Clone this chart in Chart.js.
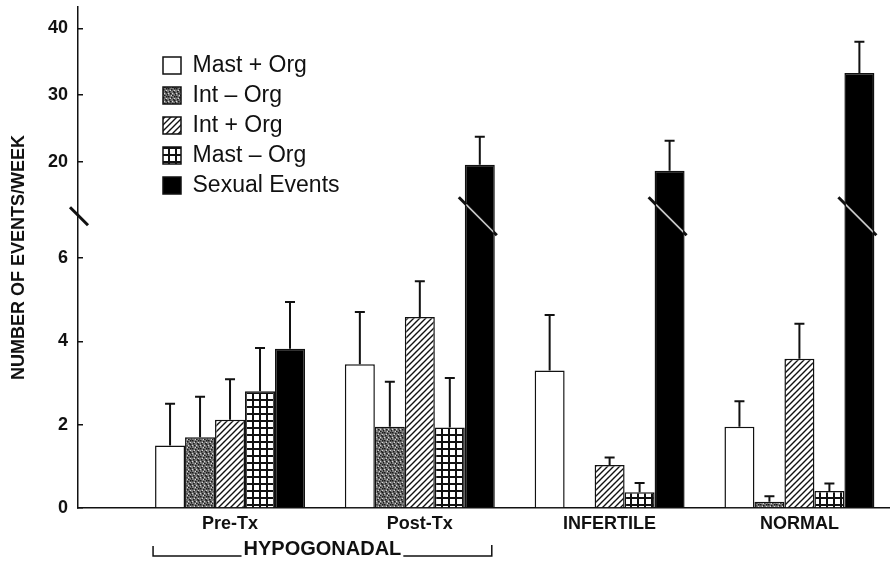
<!DOCTYPE html>
<html>
<head>
<meta charset="utf-8">
<title>Number of events per week</title>
<script src="https://cdn.jsdelivr.net/npm/chart.js@4.4.0/dist/chart.umd.min.js"></script>
<style>
  html, body { margin: 0; padding: 0; background: #fff; }
  #chart { display: block; }
</style>
</head>
<body>
<canvas id="chart" width="891" height="569"></canvas>
<script>
// Groups on the x axis
var groupLabels = ['Pre-Tx', 'Post-Tx', 'INFERTILE', 'NORMAL'];
var seriesNames = ['Mast + Org', 'Int \u2013 Org', 'Int + Org', 'Mast \u2013 Org', 'Sexual Events'];

// Mean events/week (null = no bar)
var mastOrg      = [1.5, 3.45, 3.3, 1.95];
var intNoOrg     = [1.7, 1.95, null, 0.15];
var intOrg       = [2.12, 4.58, 1.03, 3.58];
var mastNoOrg    = [2.8, 1.93, 0.38, 0.41];
var sexualEvents = [3.82, 19.6, 18.7, 33.3];

// Upper error bars
var mastOrgErr      = [1.0, 1.25, 1.33, 0.61];
var intNoOrgErr     = [0.97, 1.08, null, 0.13];
var intOrgErr       = [0.97, 0.86, 0.18, 0.84];
var mastNoOrgErr    = [1.04, 1.19, 0.22, 0.18];
var sexualEventsErr = [1.12, 4.2, 4.5, 4.7];

var yTickValues = [0, 2, 4, 6, 20, 30, 40];
var groupName = 'HYPOGONADAL';

// Broken y axis: 0..7 linear, then 20..40 compressed above the break
var BREAK_AT = 7;
var UPPER_FROM = 20;
var UPPER_POS = 8.3;
var UPPER_SCALE = 0.1605;
var Y_MAX = 12.02;

function toAxis(v){
    return v <= BREAK_AT ? v : UPPER_POS + (v - UPPER_FROM) * UPPER_SCALE;
}

Chart.defaults.font.family = "'Liberation Sans', Arial, sans-serif";
Chart.defaults.color = '#111';

var ctx = document.getElementById('chart').getContext('2d');

function _makePattern(size, draw){
    var c = document.createElement('canvas');
    c.width = size;
    c.height = size;
    draw(c.getContext('2d'), size);
    return ctx.createPattern(c, 'repeat');
}

// stippled grey
var stipple = _makePattern(8, function(g, s){
    g.fillStyle = '#7a7a7a';
    g.fillRect(0, 0, s, s);
    g.fillStyle = '#1a1a1a';
    [[0,0],[3,1],[6,0],[1,3],[5,3],[2,5],[7,6],[4,7],[6,4]].forEach(function(p){ g.fillRect(p[0], p[1], 1.5, 1.5); });
    g.fillStyle = '#d8d8d8';
    [[2,2],[6,2],[0,5],[4,5],[3,7]].forEach(function(p){ g.fillRect(p[0], p[1], 1, 1); });
});

// diagonal hatch
var hatch = _makePattern(6, function(g, s){
    g.fillStyle = '#fff';
    g.fillRect(0, 0, s, s);
    g.strokeStyle = '#111';
    g.lineWidth = 1.4;
    g.beginPath();
    g.moveTo(-1, s + 1); g.lineTo(s + 1, -1);
    g.moveTo(-1, 1); g.lineTo(1, -1);
    g.moveTo(s - 1, s + 1); g.lineTo(s + 1, s - 1);
    g.stroke();
});

// square grid
var grid = _makePattern(7, function(g, s){
    g.fillStyle = '#fff';
    g.fillRect(0, 0, s, s);
    g.fillStyle = '#111';
    g.fillRect(0, 0, s, 2);
    g.fillRect(0, 0, 2, s);
});

function _series(name, values, errors, fill){
    return {
        label: name,
        values: values,
        errors: errors,
        data: values.map(function(v, i){ return {x: i + 1, y: v == null ? null : toAxis(v)}; }),
        backgroundColor: fill,
        borderColor: '#111',
        borderWidth: 1.5
    };
}

var errorBars = {
    id: 'errorBars',
    afterDatasetsDraw: function(chart){
        var c = chart.ctx, y = chart.scales.y;
        c.save();
        c.strokeStyle = '#111';
        c.lineWidth = 2;
        chart.data.datasets.forEach(function(ds, i){
            var meta = chart.getDatasetMeta(i);
            ds.errors.forEach(function(err, j){
                var v = ds.values[j];
                if (v == null || err == null) return;
                var bar = meta.data[j];
                var yCap = y.getPixelForValue(toAxis(v + err));
                c.beginPath();
                c.moveTo(bar.x, bar.y);
                c.lineTo(bar.x, yCap);
                c.moveTo(bar.x - 5, yCap);
                c.lineTo(bar.x + 5, yCap);
                c.stroke();
            });
        });
        c.restore();
    }
};

// slash marks on the axis and on the tall bars, plus the group bracket
var breaks = {
    id: 'breaks',
    afterDraw: function(chart){
        var c = chart.ctx, area = chart.chartArea;
        var yb = chart.scales.y.getPixelForValue(BREAK_AT);
        c.save();
        c.strokeStyle = '#111';
        c.lineWidth = 3;
        c.beginPath();
        c.moveTo(area.left - 8, yb - 9);
        c.lineTo(area.left + 10, yb + 9);
        c.stroke();

        var meta = chart.getDatasetMeta(4);
        sexualEvents.forEach(function(v, j){
            if (v <= BREAK_AT) return;
            var bar = meta.data[j];
            var l = bar.x - bar.width / 2, r = bar.x + bar.width / 2;
            c.strokeStyle = '#111';
            c.lineWidth = 3;
            c.beginPath();
            c.moveTo(l - 6, yb - 19);
            c.lineTo(r + 2, yb + 19);
            c.stroke();
            c.save();
            c.beginPath();
            c.rect(l + 1.5, yb - 30, bar.width - 3, 60);
            c.clip();
            c.strokeStyle = '#cfcfcf';
            c.lineWidth = 1.5;
            c.beginPath();
            c.moveTo(l - 6, yb - 19);
            c.lineTo(r + 2, yb + 19);
            c.stroke();
            c.restore();
        });

        // HYPOGONADAL bracket under the first two groups
        var m0 = chart.getDatasetMeta(0), m4 = chart.getDatasetMeta(4);
        var x1 = m0.data[0].x - m0.data[0].width / 2 - 2;
        var x2 = m4.data[1].x + m4.data[1].width / 2 - 3;
        var yLine = area.bottom + 48;
        c.font = "bold 20px 'Liberation Sans', Arial, sans-serif";
        c.fillStyle = '#111';
        c.textAlign = 'center';
        c.textBaseline = 'alphabetic';
        var mid = (x1 + x2) / 2;
        var half = c.measureText(groupName).width / 2 + 2;
        c.fillText(groupName, mid, yLine - 1);
        c.strokeStyle = '#111';
        c.lineWidth = 1.5;
        c.beginPath();
        c.moveTo(x1, yLine - 10);
        c.lineTo(x1, yLine);
        c.lineTo(mid - half, yLine);
        c.moveTo(mid + half, yLine);
        c.lineTo(x2, yLine);
        c.lineTo(x2, yLine - 11);
        c.stroke();
        c.restore();
    }
};

// put the legend in the upper left of the plot
var legendPlace = {
    id: 'legendPlace',
    afterLayout: function(chart){
        chart.legend.left = 163 - 7;
        chart.legend.top = 47;
    }
};

new Chart(ctx, {
    type: 'bar',
    data: {
        datasets: [
            _series(seriesNames[0], mastOrg, mastOrgErr, '#fff'),
            _series(seriesNames[1], intNoOrg, intNoOrgErr, stipple),
            _series(seriesNames[2], intOrg, intOrgErr, hatch),
            _series(seriesNames[3], mastNoOrg, mastNoOrgErr, grid),
            _series(seriesNames[4], sexualEvents, sexualEventsErr, '#000')
        ]
    },
    options: {
        responsive: false,
        animation: false,
        devicePixelRatio: 1,
        categoryPercentage: 0.79,
        barPercentage: 1,
        layout: { padding: { top: 7, right: 2, left: 0, bottom: 0 } },
        plugins: {
            tooltip: { enabled: false },
            legend: {
                position: 'chartArea',
                align: 'start',
                labels: {
                    boxWidth: 18,
                    boxHeight: 17,
                    padding: 7,
                    color: '#111',
                    font: { size: 23 }
                }
            }
        },
        scales: {
            x: {
                type: 'linear',
                offset: false,
                min: 0.199,
                max: 4.472,
                afterBuildTicks: function(scale){
                    scale.ticks = groupLabels.map(function(_, i){ return {value: i + 1}; });
                },
                afterFit: function(scale){
                    scale.height = 61;
                    scale.paddingLeft = 0;
                    scale.paddingRight = 0;
                },
                grid: { display: false, drawTicks: false },
                border: { color: '#111', width: 1.5 },
                ticks: {
                    autoSkip: false,
                    maxRotation: 0,
                    padding: 5,
                    color: '#111',
                    font: { size: 18, weight: 'bold' },
                    callback: function(value, index){ return groupLabels[index]; }
                }
            },
            y: {
                min: 0,
                max: Y_MAX,
                afterBuildTicks: function(scale){
                    scale.ticks = yTickValues.map(function(v){ return {value: toAxis(v)}; });
                },
                afterFit: function(scale){
                    scale.width = 78;
                    scale.paddingTop = 0;
                    scale.paddingBottom = 0;
                },
                grid: { drawOnChartArea: false, color: '#111', lineWidth: 1.5, tickLength: -5 },
                border: { color: '#111', width: 1.5 },
                ticks: {
                    autoSkip: false,
                    padding: 15,
                    color: '#111',
                    font: { size: 18, weight: 'bold' },
                    callback: function(value, index){ return yTickValues[index]; }
                },
                title: {
                    display: true,
                    text: 'NUMBER OF EVENTS/WEEK',
                    color: '#111',
                    padding: { top: 8, bottom: 0 },
                    font: { size: 18, weight: 'bold' }
                }
            }
        }
    },
    plugins: [errorBars, breaks, legendPlace]
});
</script>
</body>
</html>
